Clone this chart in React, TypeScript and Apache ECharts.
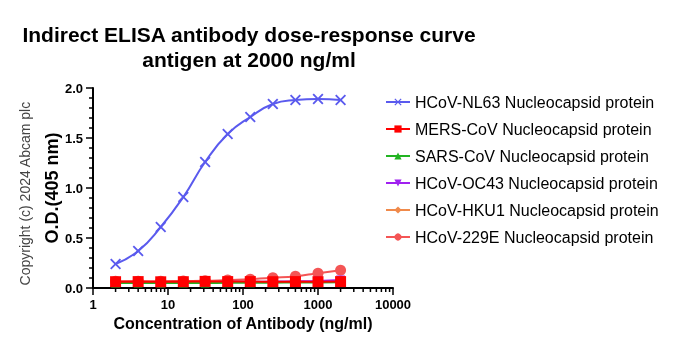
import React, { useEffect, useRef } from "react";
import * as echarts from "echarts";

const concentrations = [2, 4, 8, 16, 31.25, 62.5, 125, 250, 500, 1000, 2000];
const nl63 = [0.24, 0.37, 0.61, 0.91, 1.26, 1.54, 1.71, 1.84, 1.88, 1.89, 1.88];
const mers = [0.063, 0.064, 0.062, 0.063, 0.066, 0.064, 0.064, 0.063, 0.064, 0.063, 0.064];
const sars = [0.05, 0.05, 0.05, 0.05, 0.05, 0.052, 0.052, 0.053, 0.055, 0.056, 0.058];
const oc43 = [0.06, 0.06, 0.06, 0.06, 0.06, 0.062, 0.062, 0.064, 0.066, 0.07, 0.08];
const hku1 = [0.058, 0.058, 0.058, 0.058, 0.058, 0.06, 0.06, 0.06, 0.062, 0.064, 0.068];
const e229 = [0.068, 0.068, 0.068, 0.07, 0.072, 0.08, 0.088, 0.102, 0.118, 0.148, 0.177];
const minorTicks = [2, 3, 4, 5, 6, 7, 8, 9, 20, 30, 40, 50, 60, 70, 80, 90, 200, 300, 400, 500, 600, 700, 800, 900, 2000, 3000, 4000, 5000, 6000, 7000, 8000, 9000];
const yMinor = [0.1, 0.2, 0.3, 0.4, 0.6, 0.7, 0.8, 0.9, 1.1, 1.2, 1.3, 1.4, 1.6, 1.7, 1.8, 1.9];

const FONT = "Liberation Sans, Arial, sans-serif";
const X_PATH = "path://M0,1.2L1.2,0L5,3.8L8.8,0L10,1.2L6.2,5L10,8.8L8.8,10L5,6.2L1.2,10L0,8.8L3.8,5Z";

export default function App() {
  const ref = useRef<HTMLDivElement>(null);
  useEffect(() => {
    const chart = echarts.init(ref.current!, null, { renderer: "svg" });
    const mk = (name: string, data: number[], color: string, symbol: string, size: number, extra: any = {}) => ({
      name,
      type: "line",
      smooth: true,
      data: concentrations.map((c, i) => [c, data[i]]),
      symbol,
      symbolSize: size,
      showSymbol: true,
      lineStyle: { color, width: 2 },
      itemStyle: { color },
      ...extra,
    });
    const series: any[] = [
      mk("HCoV-229E Nucleocapsid protein", e229, "#f45555", "circle", 11, { z: 1 }),
      mk("HCoV-HKU1 Nucleocapsid protein", hku1, "#f08a4b", "diamond", 8, { z: 2 }),
      mk("HCoV-OC43 Nucleocapsid protein", oc43, "#a020f0", "triangle", 9, { symbolRotate: 180, z: 3 }),
      mk("SARS-CoV Nucleocapsid protein", sars, "#22b422", "triangle", 9, { z: 4 }),
      mk("MERS-CoV Nucleocapsid protein", mers, "#ff0000", "rect", 11, { z: 5 }),
      mk("HCoV-NL63 Nucleocapsid protein", nl63, "#5a5aee", X_PATH, 11, { z: 6 }),
      {
        type: "custom",
        silent: true,
        clip: false,
        data: minorTicks.map((v) => [v, 0]),
        renderItem: (params: any, api: any) => {
          const p = api.coord([api.value(0), 0]);
          return { type: "line", shape: { x1: p[0], y1: p[1], x2: p[0], y2: p[1] + 4 }, style: { stroke: "#000", lineWidth: 1.5 } };
        },
        z: 10,
      },
      {
        type: "custom",
        silent: true,
        clip: false,
        data: yMinor.map((v) => [1, v]),
        renderItem: (params: any, api: any) => {
          const p = api.coord([1, api.value(1)]);
          return { type: "line", shape: { x1: p[0], y1: p[1], x2: p[0] - 4, y2: p[1] }, style: { stroke: "#000", lineWidth: 1.5 } };
        },
        z: 10,
      },
    ];
    chart.setOption({
      animation: false,
      textStyle: { fontFamily: FONT },
      title: {
        text: "Indirect ELISA antibody dose-response curve\nantigen at 2000 ng/ml",
        left: 244,
        top: 17,
        textAlign: "center",
        textStyle: { fontSize: 21, fontWeight: "bold", color: "#000", fontFamily: FONT, lineHeight: 25 },
      },
      legend: {
        orient: "vertical",
        left: 380,
        top: 89,
        itemWidth: 24,
        itemHeight: 9,
        itemGap: 11,
        textStyle: { fontSize: 16, color: "#000", fontFamily: FONT, lineHeight: 16 },
        data: [
          "HCoV-NL63 Nucleocapsid protein",
          "MERS-CoV Nucleocapsid protein",
          "SARS-CoV Nucleocapsid protein",
          "HCoV-OC43 Nucleocapsid protein",
          "HCoV-HKU1 Nucleocapsid protein",
          "HCoV-229E Nucleocapsid protein",
        ],
      },
      grid: { left: 93, right: 285, top: 88, bottom: 64, containLabel: false },
      xAxis: {
        type: "log",
        logBase: 10,
        min: 1,
        max: 10000,
        name: "Concentration of Antibody (ng/ml)",
        nameLocation: "middle",
        nameGap: 24,
        nameTextStyle: { fontSize: 16, fontWeight: "bold", color: "#000", fontFamily: FONT },
        axisLine: { lineStyle: { color: "#000", width: 2 } },
        axisTick: { inside: false, length: 7, lineStyle: { color: "#000", width: 1.5 } },
        axisLabel: { fontSize: 13, fontWeight: "bold", color: "#000", margin: 10, formatter: (v: number) => String(Math.round(v)) },
        splitLine: { show: false },
      },
      yAxis: {
        type: "value",
        min: 0,
        max: 2,
        interval: 0.5,
        name: "O.D.(405 nm)",
        nameLocation: "middle",
        nameRotate: 90,
        nameGap: 32,
        nameTextStyle: { fontSize: 18, fontWeight: "bold", color: "#000", fontFamily: FONT },
        axisLine: { show: true, lineStyle: { color: "#000", width: 2 } },
        axisTick: { show: true, length: 7, lineStyle: { color: "#000", width: 1.5 } },
        axisLabel: { fontSize: 13, fontWeight: "bold", color: "#000", margin: 10, formatter: (v: number) => v.toFixed(1) },
        splitLine: { show: false },
      },
      graphic: [
        {
          type: "text",
          left: 18,
          top: 101,
          rotation: Math.PI / 2,
          style: { text: "Copyright (c) 2024 Abcam plc", fontSize: 14, fill: "#444", fontFamily: FONT },
        },
      ],
      series,
    });
    return () => chart.dispose();
  }, []);
  return <div ref={ref} style={{ position: "fixed", left: 0, top: 0, width: 678, height: 352 }} />;
}
